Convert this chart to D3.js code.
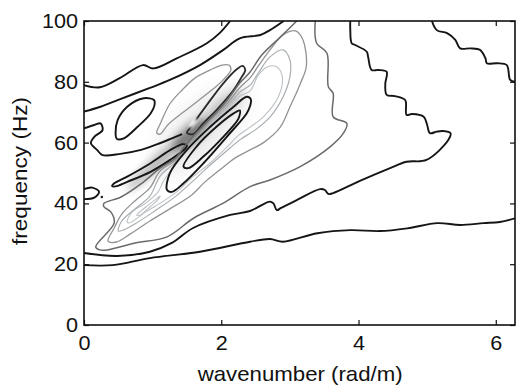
<!DOCTYPE html>
<meta charset="utf-8">
<script src="https://d3js.org/d3.v7.min.js"></script>
<style>
  body { margin: 0; background: #fff; }
  text { font-family: "Liberation Sans", Arial, Helvetica, sans-serif; fill: #111; }
</style>
<div id="my_dataviz"></div>
<script>

// axis ticks
var kTicks = [0, 2, 4, 6];
var fTicks = [0, 20, 40, 60, 80, 100];
var kMax = 6.28;

// contour lines, points are [wavenumber rad/m, frequency Hz]
var c1 = [[0,19.7],[0.42,19.7],[0.96,22.0],[1.69,24.1],[2.42,27.4],[2.71,28.3],[2.90,27.4],[3.40,30.2],[3.88,31.2],[4.31,30.9],[4.71,31.8],[5.15,33.5],[5.48,32.9],[5.82,33.5],[6.06,33.9],[6.28,35.1]];
var c2 = [[0,23.7],[0.48,22.7],[0.96,24.1],[1.28,27.0],[1.59,31.9],[2.13,36.2],[2.42,37.5],[2.71,40.6],[2.76,40.0],[2.81,37.8],[2.87,38.5],[3.10,41.1],[3.44,44.7],[3.51,44.4],[3.56,43.1],[3.63,43.4],[4.02,47.4],[4.46,51.6],[4.70,53.7],[4.99,54.3],[5.31,60.9],[5.34,63.1],[5.23,63.8],[5.14,63.6],[5.04,63.1],[5.00,65.8],[4.95,68.5],[4.78,69.4],[4.70,69.1],[4.68,74.0],[4.53,75.3],[4.41,75.7],[4.39,79.3],[4.41,83.3],[4.29,83.9],[4.19,83.9],[4.14,88.2],[4.12,89.9],[3.95,92.1],[3.90,92.7],[3.88,97.0],[3.88,100]];
var c3 = [[5.07,100],[5.14,97.0],[5.29,96.0],[5.41,93.8],[5.48,91.0],[5.63,91.0],[5.77,90.5],[5.85,87.7],[5.87,86.1],[6.02,86.1],[6.16,85.5],[6.21,80.6],[6.28,80.0]];
var c4 = [[0,78.9],[0.23,78.2],[0.52,81.2],[0.86,85.5],[1.01,84.4],[1.35,87.7],[1.79,92.7],[1.98,96.1],[2.13,100]];
var c5 = [[0,70.2],[0.24,71.8],[0.49,74.0],[0.96,78.0],[1.25,80.6],[1.69,85.5],[2.03,90.5],[2.27,94.3],[2.57,95.4],[2.71,97.0],[2.91,100]];
var c6 = [[0,64.7],[0.15,65.8],[0.24,66.3],[0.27,64.1],[0.15,61.9],[0.10,59.8],[0.19,57.6],[0.27,55.9],[0.53,56.3],[0.83,57.6],[1.07,59.5],[1.26,61.2],[1.43,62.8]];
var hook = [[0,44.7],[0.12,45.2],[0.22,43.8],[0.15,41.9],[0,41.4]];
var g1 = [[3.10,100],[2.86,94.7],[2.59,88.8],[2.42,83.2],[2.27,79.6],[2.06,73.2],[1.84,67.9],[1.62,62.8],[1.47,58.9],[1.33,54.8],[1.11,51.6],[0.83,46.4],[0.54,42.1],[0.29,40.0],[0.29,38.9],[0.39,37.2],[0.44,33.6],[0.17,25.7],[0.23,24.7],[0.34,24.7],[0.73,26.9],[1.21,29.0],[1.60,35.2],[2.03,40.1],[2.42,45.5],[2.71,47.7],[3.15,52.1],[3.59,58.7],[3.78,63.1],[3.83,66.3],[3.63,68.5],[3.63,76.2],[3.56,78.4],[3.54,89.4],[3.39,92.7],[3.37,100]];

// closed loops
var c7 = [[0.46,63.1],[0.49,67.4],[0.63,71.8],[0.87,74.6],[1.02,74.0],[1.03,72.7],[0.97,69.6],[0.78,65.2],[0.58,61.4],[0.48,61.2]];
var c8 = [[0.44,46.6],[0.63,48.8],[0.97,53.2],[1.26,57.6],[1.44,59.5],[1.50,59.0],[1.47,57.9],[1.26,54.4],[0.97,50.4],[0.63,47.1],[0.46,45.6],[0.41,45.7]];
var c9 = [[1.50,63.2],[1.57,65.5],[1.79,72.4],[2.03,79.5],[2.23,84.2],[2.31,85.2],[2.35,83.9],[2.29,81.3],[2.18,77.3],[1.93,70.7],[1.74,66.4],[1.59,62.8]];
var c10 = [[1.21,44.4],[1.25,49.9],[1.50,57.6],[1.84,65.2],[2.18,71.8],[2.37,75.1],[2.43,74.3],[2.42,72.0],[2.37,69.6],[2.08,61.9],[1.74,53.2],[1.45,46.6],[1.28,43.8]];
var c11 = [[1.45,52.1],[1.64,58.7],[1.93,65.2],[2.18,69.6],[2.27,70.6],[2.26,68.4],[2.23,67.1],[2.03,61.9],[1.74,55.4],[1.52,51.6]];
var g2 = [[1.06,63.2],[1.11,66.1],[1.25,72.7],[1.43,77.3],[1.62,81.3],[1.84,83.9],[2.01,85.5],[2.11,85.5],[2.14,83.9],[2.04,80.9],[1.88,77.6],[1.66,73.7],[1.43,69.7],[1.22,65.8],[1.11,62.8]];
var l1 = [[0.35,27.6],[0.44,31.9],[0.55,36.5],[0.74,40.8],[0.96,45.1],[1.11,50.7],[1.33,54.1],[1.47,58.2],[1.62,61.8],[1.84,67.3],[2.06,72.2],[2.27,78.1],[2.42,81.3],[2.54,85.2],[2.71,90.5],[2.90,95.4],[3.09,96.7],[3.19,93.8],[3.24,85.2],[3.15,79.3],[3.00,71.7],[2.86,65.1],[2.61,59.9],[2.42,57.6],[2.20,54.9],[2.01,51.6],[1.76,47.0],[1.55,42.4],[1.25,38.2],[0.96,34.2],[0.67,29.9],[0.47,27.3]];
var l2 = [[0.50,30.9],[0.55,34.2],[0.76,38.5],[0.96,42.4],[1.11,49.0],[1.33,53.5],[1.47,57.6],[1.62,60.9],[1.84,66.6],[2.06,71.2],[2.27,76.6],[2.42,78.9],[2.54,82.9],[2.71,88.2],[2.90,90.5],[3.00,87.2],[3.00,81.6],[2.90,75.0],[2.71,68.4],[2.49,64.1],[2.27,60.9],[2.06,56.9],[1.81,52.0],[1.57,47.0],[1.34,42.4],[1.03,37.5],[0.74,33.2],[0.58,31.3]];
var l3 = [[0.63,33.9],[0.70,37.2],[0.90,40.1],[1.08,43.8],[1.15,47.0],[1.33,52.8],[1.47,57.1],[1.62,59.9],[1.84,66.0],[2.06,70.4],[2.27,75.3],[2.42,77.0],[2.54,82.2],[2.67,84.9],[2.81,84.9],[2.89,81.6],[2.83,75.0],[2.61,68.4],[2.42,65.1],[2.24,62.2],[2.10,58.9],[1.84,53.3],[1.57,48.4],[1.37,44.1],[1.14,40.5],[0.90,37.2],[0.76,34.9],[0.66,33.6]];
var t1 = [[0.77,36.2],[0.90,38.8],[1.05,41.4],[1.11,42.4],[1.06,40.8],[0.93,38.2],[0.82,36.2]];

// dark smear along the ridge, and the pale gap inside it
var smearK = [1.69, 1.03, 2.01, 1.55];
var smearF = [64.1, 52.6, 71.4, 62.5];
var gapK = [1.59], gapF = [66.4];
var dotK = [0.26], dotF = [42.1];

var openLines = [
  {pts: g1, cls: "gray"},
  {pts: c1, cls: "black"}, {pts: c2, cls: "black"}, {pts: c3, cls: "black"},
  {pts: c4, cls: "black"}, {pts: c5, cls: "black"}, {pts: c6, cls: "black"},
  {pts: hook, cls: "black"}
];
var loops = [
  {pts: t1, cls: "light3"},
  {pts: l3, cls: "light3"}, {pts: l2, cls: "light2"}, {pts: l1, cls: "light1"},
  {pts: g2, cls: "light1"},
  {pts: c7, cls: "black"}, {pts: c8, cls: "black"}, {pts: c9, cls: "dark"},
  {pts: c10, cls: "black"}, {pts: c11, cls: "black"}
];

var look = {
  black:  {stroke: "#151515", w: 1.9},
  dark:   {stroke: "#2b2b2b", w: 1.8},
  gray:   {stroke: "#6a6a6a", w: 1.5},
  light1: {stroke: "#939393", w: 1.3},
  light2: {stroke: "#a9aeb1", w: 1.2},
  light3: {stroke: "#bcc2c5", w: 1.1}
};

var margin = {top: 21, right: 2, bottom: 63, left: 84},
    width = 517 - margin.left - margin.right,
    height = 388 - margin.top - margin.bottom;

var svg = d3.select("#my_dataviz")
  .append("svg")
    .attr("width", 517)
    .attr("height", 388);

var defs = svg.append("defs");
defs.append("clipPath").attr("id", "plotclip")
  .append("rect").attr("width", width).attr("height", height);
defs.append("filter").attr("id", "soft").attr("x", "-50%").attr("y", "-50%").attr("width", "200%").attr("height", "200%")
  .append("feGaussianBlur").attr("stdDeviation", 4);
defs.append("filter").attr("id", "haze").attr("x", "-50%").attr("y", "-50%").attr("width", "200%").attr("height", "200%")
  .append("feGaussianBlur").attr("stdDeviation", 9);
defs.append("filter").attr("id", "tiny").attr("x", "-50%").attr("y", "-50%").attr("width", "200%").attr("height", "200%")
  .append("feGaussianBlur").attr("stdDeviation", 1);

var g = svg.append("g")
    .attr("transform", "translate(" + margin.left + "," + margin.top + ")");

var x = d3.scaleLinear().domain([0, kMax]).range([0, width]);
var y = d3.scaleLinear().domain([0, 100]).range([height, 0]);

var plot = g.append("g").attr("clip-path", "url(#plotclip)");

// smear under the lines
var smearStyle = [
  {rx: 62, ry: 24, fill: "#c4c4c4", op: 0.35, f: "haze"},
  {rx: 38, ry: 6, fill: "#7a7a7a", op: 0.5, f: "soft"},
  {rx: 26, ry: 7, fill: "#8a8a8a", op: 0.45, f: "soft"},
  {rx: 22, ry: 8, fill: "#3a3a3a", op: 0.65, f: "soft"}
];
smearK.forEach(function(k, i) {
  var s = smearStyle[i];
  plot.append("ellipse")
    .attr("transform", "translate(" + x(k) + "," + y(smearF[i]) + ") rotate(-42)")
    .attr("rx", s.rx).attr("ry", s.ry)
    .attr("fill", s.fill).attr("opacity", s.op)
    .attr("filter", "url(#" + s.f + ")");
});

var line = d3.line()
  .x(function(d) { return x(d[0]); })
  .y(function(d) { return y(d[1]); })
  .curve(d3.curveCatmullRom.alpha(0.5));
var loopLine = d3.line()
  .x(function(d) { return x(d[0]); })
  .y(function(d) { return y(d[1]); })
  .curve(d3.curveCatmullRomClosed.alpha(0.5));

plot.selectAll("path.loop")
  .data(loops)
  .enter()
  .append("path")
    .attr("class", "loop")
    .attr("d", function(d) { return loopLine(d.pts); })
    .attr("fill", "none")
    .attr("stroke", function(d) { return look[d.cls].stroke; })
    .attr("stroke-width", function(d) { return look[d.cls].w; })
    .attr("stroke-linejoin", "round");

plot.selectAll("path.open")
  .data(openLines)
  .enter()
  .append("path")
    .attr("class", "open")
    .attr("d", function(d) { return line(d.pts); })
    .attr("fill", "none")
    .attr("stroke", function(d) { return look[d.cls].stroke; })
    .attr("stroke-width", function(d) { return look[d.cls].w; })
    .attr("stroke-linejoin", "round");

// pale gap in the smear
plot.selectAll("ellipse.gap")
  .data(gapK)
  .enter()
  .append("ellipse")
    .attr("class", "gap")
    .attr("transform", function(d, i) { return "translate(" + x(d) + "," + y(gapF[i]) + ") rotate(-50)"; })
    .attr("rx", 6).attr("ry", 2.2)
    .attr("fill", "#f4f4f4")
    .attr("filter", "url(#tiny)");

plot.selectAll("circle.dot")
  .data(dotK)
  .enter()
  .append("circle")
    .attr("cx", function(d) { return x(d); })
    .attr("cy", function(d, i) { return y(dotF[i]); })
    .attr("r", 1.3)
    .attr("fill", "#222");

// axes: ticks point inward, frame drawn as box
function stretch(sel, f) {
  sel.each(function() {
    var w = this.getComputedTextLength();
    d3.select(this).attr("textLength", w * f).attr("lengthAdjust", "spacingAndGlyphs");
  });
}

var xb = g.append("g")
  .attr("transform", "translate(0," + height + ")")
  .call(d3.axisBottom(x).tickValues(kTicks).tickFormat(d3.format("d")).tickSizeInner(-5).tickSizeOuter(0).tickPadding(11));
var xt = g.append("g")
  .call(d3.axisTop(x).tickValues(kTicks).tickSizeInner(-5).tickSizeOuter(0).tickFormat(""));
var yl = g.append("g")
  .call(d3.axisLeft(y).tickValues(fTicks).tickFormat(d3.format("d")).tickSizeInner(-5).tickSizeOuter(0).tickPadding(6));
var yr = g.append("g")
  .attr("transform", "translate(" + width + ",0)")
  .call(d3.axisRight(y).tickValues(fTicks).tickSizeInner(-5).tickSizeOuter(0).tickFormat(""));

[xb, xt, yl, yr].forEach(function(a) {
  a.select(".domain").remove();
  a.selectAll("line").attr("stroke", "#111").attr("stroke-width", 1.2);
  a.selectAll("text").attr("font-size", 20).attr("fill", "#111")
    .style("font-family", "'Liberation Sans', Arial, Helvetica, sans-serif");
});
stretch(xb.selectAll("text"), 1.08);
stretch(yl.selectAll("text"), 1.08);

g.append("rect")
  .attr("width", width).attr("height", height)
  .attr("fill", "none").attr("stroke", "#111").attr("stroke-width", 1.6);

// axis titles
svg.append("text")
  .attr("x", margin.left + x(3.15)).attr("y", 381)
  .attr("text-anchor", "middle").attr("font-size", 21)
  .attr("textLength", 205).attr("lengthAdjust", "spacingAndGlyphs")
  .text("wavenumber (rad/m)");

svg.append("text")
  .attr("transform", "translate(27,171) rotate(-90)")
  .attr("text-anchor", "middle").attr("font-size", 21)
  .attr("textLength", 148).attr("lengthAdjust", "spacingAndGlyphs")
  .text("frequency (Hz)");

</script>
